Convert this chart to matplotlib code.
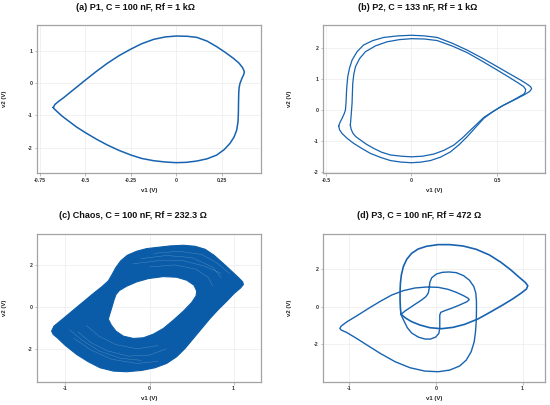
import numpy as np
import matplotlib
matplotlib.use("Agg")
import matplotlib.pyplot as plt
from matplotlib.path import Path
from matplotlib.patches import PathPatch

plt.rcParams["font.family"] = ["Liberation Sans", "DejaVu Sans"]
plt.rcParams["font.weight"] = "bold"

# (a) P1 limit cycle
p1_v1 = [-0.677, -0.668, -0.648, -0.618, -0.56, -0.5, -0.44, -0.38, -0.315, -0.249,
         -0.19, -0.124, -0.06, 0.0, 0.06, 0.113, 0.17, 0.223, 0.27, 0.315,
         0.345, 0.365, 0.375, 0.372, 0.362, 0.351, 0.346, 0.344, 0.343, 0.342,
         0.34, 0.333, 0.318, 0.296, 0.265, 0.223, 0.17, 0.113, 0.055, 0.0,
         -0.06, -0.124, -0.19, -0.249, -0.315, -0.38, -0.44, -0.5, -0.55, -0.6,
         -0.63, -0.655, -0.672, -0.677]
p1_v2 = [-0.755, -0.665, -0.57, -0.445, -0.18, 0.093, 0.36, 0.61, 0.85, 1.055,
         1.22, 1.355, 1.43, 1.458, 1.45, 1.417, 1.3, 1.127, 0.95, 0.765,
         0.62, 0.48, 0.35, 0.27, 0.15, -0.01, -0.15, -0.32, -0.6, -0.94,
         -1.2, -1.458, -1.68, -1.87, -2.06, -2.234, -2.35, -2.42, -2.46, -2.47,
         -2.45, -2.41, -2.34, -2.234, -2.09, -1.92, -1.74, -1.54, -1.36, -1.148,
         -1.02, -0.89, -0.8, -0.755]

# (b) P2: outer and inner lap
p2_outer_v1 = [-0.425, -0.418, -0.405, -0.392, -0.386, -0.382, -0.38, -0.377, -0.372, -0.362,
               -0.347, -0.318, -0.279, -0.225, -0.162, -0.08, 0.0, 0.075, 0.15, 0.24,
               0.326, 0.415, 0.501, 0.57, 0.637, 0.675, 0.696, 0.702, 0.69, 0.657,
               0.59, 0.52, 0.47, 0.423, 0.375, 0.326, 0.28, 0.228, 0.17, 0.111,
               0.055, 0.0, -0.06, -0.123, -0.18, -0.24, -0.29, -0.337, -0.375, -0.405,
               -0.42, -0.425]
p2_outer_v2 = [-0.51, -0.4, -0.26, -0.1, 0.0, 0.25, 0.54, 0.8, 1.08, 1.35,
               1.61, 1.88, 2.1, 2.24, 2.34, 2.39, 2.41, 2.39, 2.34, 2.15,
               1.93, 1.67, 1.4, 1.18, 0.97, 0.84, 0.756, 0.69, 0.6, 0.49,
               0.3, 0.11, -0.07, -0.26, -0.55, -0.85, -1.1, -1.34, -1.51, -1.62,
               -1.67, -1.69, -1.67, -1.62, -1.52, -1.39, -1.23, -1.07, -0.91, -0.75,
               -0.63, -0.51]
p2_inner_v1 = [-0.357, -0.355, -0.353, -0.35, -0.347, -0.345, -0.343, -0.337, -0.327, -0.303,
               -0.269, -0.21, -0.142, -0.07, 0.0, 0.075, 0.15, 0.24, 0.326, 0.415,
               0.501, 0.57, 0.628, 0.655, 0.667, 0.665, 0.657, 0.6, 0.54, 0.48,
               0.423, 0.385, 0.345, 0.3, 0.248, 0.19, 0.131, 0.065, 0.0, -0.06,
               -0.123, -0.175, -0.22, -0.262, -0.298, -0.325, -0.341, -0.352, -0.357]
p2_inner_v2 = [-0.48, -0.35, -0.21, 0.0, 0.22, 0.55, 0.86, 1.15, 1.4, 1.66,
               1.88, 2.07, 2.2, 2.27, 2.3, 2.29, 2.24, 2.06, 1.85, 1.57,
               1.29, 1.06, 0.86, 0.76, 0.67, 0.59, 0.52, 0.34, 0.166, -0.03,
               -0.23, -0.43, -0.64, -0.88, -1.12, -1.29, -1.41, -1.48, -1.5, -1.48,
               -1.44, -1.35, -1.23, -1.1, -0.96, -0.85, -0.75, -0.62, -0.48]

# (c) chaos: outer edge and inner hole of the band, plus a few light streaks
chaos_outer_v1 = [-1.165, -1.137, -1.026, -0.907, -0.788, -0.669, -0.569, -0.49, -0.45, -0.403,
                  -0.343, -0.264, -0.153, -0.034, 0.105, 0.244, 0.403, 0.542, 0.661, 0.768,
                  0.879, 0.978, 1.058, 1.109, 1.117, 1.085, 1.006, 0.919, 0.819, 0.72,
                  0.621, 0.522, 0.423, 0.323, 0.204, 0.065, -0.093, -0.272, -0.43, -0.589,
                  -0.728, -0.867, -1.006, -1.097, -1.145]
chaos_outer_v2 = [-1.159, -0.921, -0.556, -0.159, 0.238, 0.635, 0.952, 1.238, 1.508, 1.857,
                  2.19, 2.46, 2.651, 2.778, 2.841, 2.905, 2.937, 2.889, 2.746, 2.46,
                  2.063, 1.698, 1.397, 1.19, 1.063, 0.905, 0.635, 0.27, -0.127, -0.556,
                  -1.032, -1.508, -1.984, -2.381, -2.698, -2.905, -3.032, -3.095, -3.063, -2.905,
                  -2.619, -2.27, -1.825, -1.476, -1.317]
chaos_hole_v1 = [-0.49, -0.47, -0.446, -0.423, -0.399, -0.359, -0.272, -0.153, -0.014, 0.165,
                 0.323, 0.443, 0.53, 0.562, 0.554, 0.502, 0.403, 0.284, 0.165, 0.046,
                 -0.073, -0.192, -0.312, -0.399, -0.454]
chaos_hole_v2 = [-0.587, -0.317, 0.0, 0.317, 0.587, 0.778, 0.984, 1.19, 1.349, 1.444,
                 1.413, 1.27, 1.032, 0.746, 0.524, 0.206, -0.206, -0.635, -1.032, -1.302,
                 -1.476, -1.508, -1.397, -1.159, -0.873]
streaks_v1 = [[-0.85, -0.7, -0.5, -0.25, 0.0, 0.2],
              [-0.75, -0.6, -0.4, -0.15, 0.1],
              [-0.9, -0.7, -0.45, -0.15, 0.1],
              [-0.95, -0.8, -0.6, -0.35, -0.1],
              [-0.1, 0.2, 0.5, 0.75, 0.85],
              [0.0, 0.3, 0.55, 0.7, 0.75],
              [-0.2, 0.1, 0.4, 0.65, 0.85],
              [0.05, 0.35, 0.62, 0.8, 0.95]]
streaks_v2 = [[-1.2, -1.7, -2.1, -2.35, -2.3, -2.0],
              [-0.9, -1.4, -1.8, -2.0, -1.85],
              [-1.5, -2.05, -2.5, -2.7, -2.6],
              [-1.1, -1.6, -2.1, -2.45, -2.55],
              [2.3, 2.45, 2.35, 1.9, 1.4],
              [1.9, 2.0, 1.8, 1.4, 1.0],
              [2.05, 2.2, 2.2, 1.95, 1.6],
              [2.55, 2.65, 2.5, 2.1, 1.6]]

# (d) P3: top/right lap and the long lap through the left tip
p3_a_v1 = [-0.403, -0.411, -0.415, -0.415, -0.411, -0.4, -0.377, -0.338, -0.281, -0.205,
           -0.109, 0.025, 0.159, 0.312, 0.465, 0.618, 0.751, 0.866, 0.962, 1.031,
           1.061, 1.046, 0.981, 0.885, 0.771, 0.637, 0.484, 0.331, 0.197, 0.063,
           -0.071, -0.185, -0.281, -0.346, -0.384, -0.403]
p3_a_v2 = [-0.407, -0.088, 0.354, 0.796, 1.239, 1.681, 2.124, 2.513, 2.832, 3.062,
           3.204, 3.292, 3.292, 3.221, 3.044, 2.743, 2.354, 1.947, 1.558, 1.292,
           1.115, 0.938, 0.708, 0.407, 0.088, -0.265, -0.655, -0.938, -1.097, -1.168,
           -1.115, -0.973, -0.796, -0.619, -0.478, -0.407]
p3_b_v1 = [-0.403, -0.358, -0.3, -0.231, -0.166, -0.117, -0.09, -0.078, -0.071, -0.048,
           0.006, 0.074, 0.151, 0.235, 0.319, 0.388, 0.438, 0.461, 0.468, 0.468,
           0.465, 0.457, 0.442, 0.407, 0.35, 0.273, 0.159, 0.025, -0.128, -0.3,
           -0.472, -0.644, -0.797, -0.931, -1.034, -1.095, -1.111, -1.095, -1.027, -0.912,
           -0.778, -0.644, -0.511, -0.377, -0.243, -0.109, 0.025, 0.14, 0.235, 0.319,
           0.373, 0.384, 0.358, 0.273, 0.178, 0.101, 0.055, 0.044, 0.044, 0.044,
           0.033, -0.002, -0.063, -0.128, -0.205, -0.281, -0.331, -0.365, -0.388, -0.403]
p3_b_v2 = [-0.407, -0.23, -0.053, 0.159, 0.354, 0.531, 0.708, 0.973, 1.292, 1.54,
           1.735, 1.823, 1.841, 1.805, 1.646, 1.398, 1.062, 0.708, 0.265, -0.265,
           -0.796, -1.327, -1.858, -2.389, -2.832, -3.15, -3.363, -3.451, -3.416, -3.239,
           -2.92, -2.478, -2.035, -1.646, -1.363, -1.239, -1.15, -1.027, -0.796, -0.478,
           -0.088, 0.283, 0.619, 0.85, 0.991, 1.044, 1.027, 0.92, 0.761, 0.584,
           0.442, 0.372, 0.265, 0.088, -0.088, -0.212, -0.301, -0.442, -0.796, -1.15,
           -1.416, -1.611, -1.717, -1.717, -1.611, -1.398, -1.115, -0.796, -0.584, -0.407]

LINE = "#1763b0"
BAND = "#0b5ca8"

fig = plt.figure(figsize=(5.5, 4.05), dpi=100)
W, H = 550, 405


def make_ax(l, t, r, b):
    return fig.add_axes([l / W, 1 - b / H, (r - l) / W, (b - t) / H])


def style(ax, xlim, ylim, xt, xtl, yt):
    ax.set_xlim(*xlim)
    ax.set_ylim(*ylim)
    ax.set_xticks(xt)
    ax.set_xticklabels(xtl)
    ax.set_yticks(yt)
    ax.set_yticklabels([str(v) for v in yt])
    ax.grid(color="#ebebeb", linewidth=0.5)
    ax.set_axisbelow(True)
    for s in ax.spines.values():
        s.set_color("#a3a3a3")
        s.set_linewidth(0.9)
    ax.tick_params(length=1.8, width=0.5, color="#a3a3a3", labelsize=3.8,
                   labelcolor="#333333", pad=1.5)
    ax.set_xlabel("v1 (V)", fontsize=4.3, fontweight="bold", color="#222222")
    ax.set_ylabel("v2 (V)", fontsize=4.3, fontweight="bold", color="#222222")
    ax.xaxis.set_label_coords(0.5, -0.1)


ax_a = make_ax(37.3, 25, 260.7, 173.3)
ax_b = make_ax(323.3, 25, 545, 173.3)
ax_c = make_ax(37.3, 234.3, 260.7, 381.7)
ax_d = make_ax(323.3, 234.3, 545, 381.7)

ax_a.plot(p1_v1, p1_v2, color=LINE, lw=1.1, solid_joinstyle="round")
style(ax_a, (-0.765, 0.465), (-2.8, 1.8), [-0.75, -0.5, -0.25, 0, 0.25],
      ["-0.75", "-0.5", "-0.25", "0", "0.25"], [1, 0, -1, -2])
ax_a.yaxis.set_label_coords(-0.136, 0.5)

ax_b.plot(p2_outer_v1, p2_outer_v2, color=LINE, lw=0.9, solid_joinstyle="round")
ax_b.plot(p2_inner_v1, p2_inner_v2, color=LINE, lw=0.9, solid_joinstyle="round")
style(ax_b, (-0.515, 0.78), (-2.03, 2.74), [-0.5, 0, 0.5], ["-0.5", "0", "0.5"],
      [2, 1, 0, -1, -2])
ax_b.yaxis.set_label_coords(-0.143, 0.5)

outer = np.column_stack([chaos_outer_v1, chaos_outer_v2])
hole = np.column_stack([chaos_hole_v1, chaos_hole_v2])[::-1]
verts = np.vstack([outer, outer[:1], hole, hole[:1]])
codes = ([Path.MOVETO] + [Path.LINETO] * (len(outer) - 1) + [Path.CLOSEPOLY]
         + [Path.MOVETO] + [Path.LINETO] * (len(hole) - 1) + [Path.CLOSEPOLY])
ax_c.add_patch(PathPatch(Path(verts, codes), facecolor=BAND, edgecolor=BAND,
                         lw=0.8, joinstyle="round", zorder=2))
for sx, sy in zip(streaks_v1, streaks_v2):
    ax_c.plot(sx, sy, color="white", lw=0.3, alpha=0.3, zorder=3)
style(ax_c, (-1.335, 1.323), (-3.57, 3.46), [-1, 0, 1], ["-1", "0", "1"], [2, 0, -2])
ax_c.yaxis.set_label_coords(-0.136, 0.5)

ax_d.plot(p3_a_v1, p3_a_v2, color=LINE, lw=1.2, solid_joinstyle="round")
ax_d.plot(p3_b_v1, p3_b_v2, color=LINE, lw=1.0, solid_joinstyle="round")
style(ax_d, (-1.302, 1.26), (-3.98, 3.84), [-1, 0, 1], ["-1", "0", "1"], [2, 0, -2])
ax_d.yaxis.set_label_coords(-0.143, 0.5)

titles = [("(a) P1, C = 100 nF, Rf = 1 k\u03a9", 135, 7),
          ("(b) P2, C = 133 nF, Rf = 1 k\u03a9", 418, 7),
          ("(c) Chaos, C = 100 nF, Rf = 232.3 \u03a9", 133, 216),
          ("(d) P3, C = 100 nF, Rf = 472 \u03a9", 419, 216)]
for txt, x, y in titles:
    fig.text(x / W, 1 - y / H, txt, ha="center", va="center", fontsize=6.5,
             fontweight="bold", color="#111111")

fig.savefig("out.png", dpi=100)
